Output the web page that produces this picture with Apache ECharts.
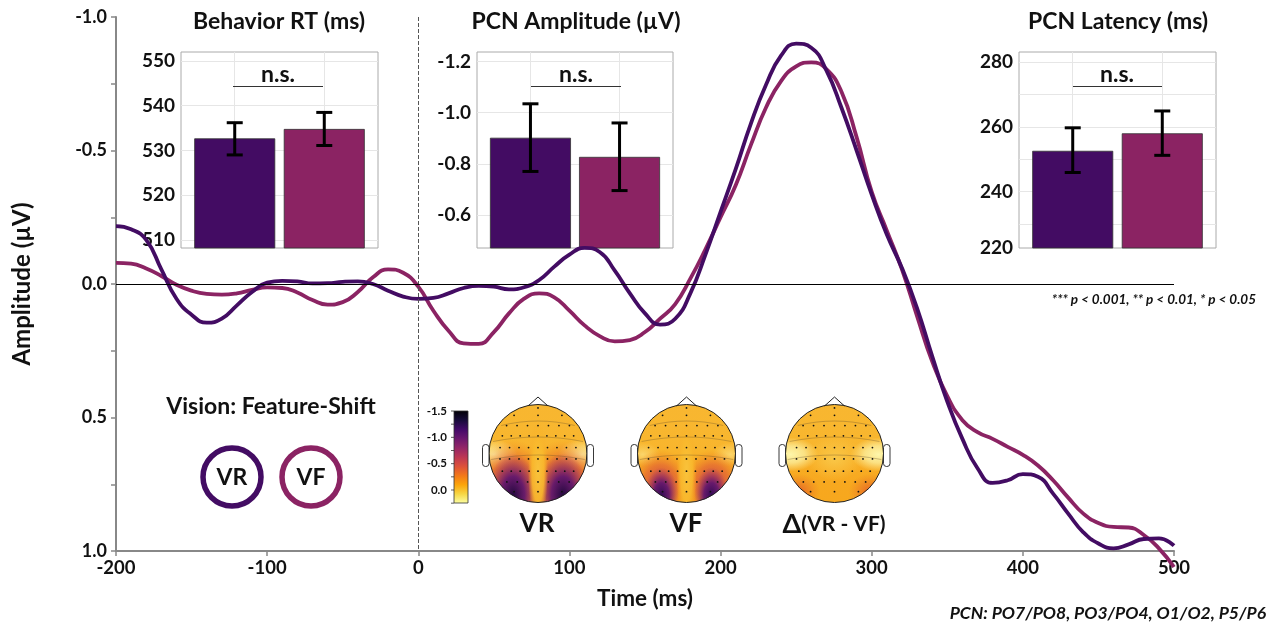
<!DOCTYPE html>
<html>
<head>
<meta charset="utf-8">
<script src="https://cdn.jsdelivr.net/npm/echarts@6/dist/echarts.min.js"></script>
<style>
html,body{margin:0;padding:0;background:#fff;}
#chart{width:1274px;height:627px;}
</style>
</head>
<body>
<div id="chart"></div>
<script>
// ---------------- DATA ----------------
const times = [-200,-190,-180,-170,-160,-150,-140,-130,-120,-110,-100,-90,-80,-70,-60,-50,-40,-30,-20,-10,
  0,10,20,30,40,50,60,70,80,90,100,110,120,130,140,150,160,170,180,190,200,210,220,230,240,250,260,270,280,290,
  300,310,320,330,340,350,360,370,380,390,400,410,420,430,440,450,460,470,480,490,500];
const vrAmp = [-0.217,-0.205,-0.165,-0.055,0.055,0.115,0.145,0.13,0.08,0.03,-0.005,-0.012,-0.01,-0.002,-0.003,-0.008,-0.01,0.0,0.025,0.047,
  0.056,0.052,0.035,0.015,0.007,0.01,0.02,0.012,-0.015,-0.065,-0.11,-0.135,-0.12,-0.05,0.035,0.11,0.152,0.13,0.035,-0.11,
  -0.27,-0.43,-0.6,-0.745,-0.855,-0.9,-0.885,-0.8,-0.66,-0.5,
  -0.335,-0.185,-0.06,0.09,0.27,0.44,0.58,0.69,0.745,0.735,0.712,0.722,0.785,0.86,0.93,0.972,0.99,0.975,0.955,0.953,0.98];
const vfAmp = [-0.079,-0.076,-0.058,-0.03,0.003,0.025,0.037,0.04,0.035,0.022,0.013,0.015,0.032,0.06,0.077,0.068,0.03,-0.025,-0.055,-0.042,
  0.01,0.1,0.175,0.222,0.224,0.18,0.11,0.055,0.035,0.05,0.1,0.155,0.195,0.215,0.21,0.18,0.13,0.075,-0.02,-0.13,
  -0.25,-0.37,-0.52,-0.66,-0.76,-0.815,-0.83,-0.805,-0.72,-0.55,
  -0.345,-0.2,-0.055,0.12,0.29,0.42,0.51,0.555,0.58,0.61,0.64,0.68,0.735,0.8,0.86,0.895,0.91,0.912,0.94,0.99,1.06];

const conditions = ['VR','VF'];
const rtMean = [532.7, 534.8];
const rtLow  = [529.0, 531.1];
const rtHigh = [536.2, 538.5];
const ampMean = [-0.902, -0.827];
const ampLow  = [-0.770, -0.695];
const ampHigh = [-1.035, -0.960];
const latMean = [252.6, 258.0];
const latLow  = [245.9, 251.2];
const latHigh = [259.7, 264.9];

const rtTicks = [510,520,530,540,550];
const ampTicks = [-1.2,-1.0,-0.8,-0.6];
const latGridTicks = [230,240,250,260,270,280];
const latLabelTicks = [220,240,260,280];
const colorbarTicks = [-1.5,-1.0,-0.5,0.0];

// ---------------- STYLE ----------------
const C_VR = '#430c63';
const C_VF = '#8b2363';
const FONT = 'Lato, "Open Sans", sans-serif';

const chart = echarts.init(document.getElementById('chart'), null, {renderer:'canvas'});

function insetY(idx, min, max, tickVals, labelVals, fmt, inverse){
  return {
    type:'value', gridIndex: idx, min: min, max: max, inverse: !!inverse,
    axisLine:{show:false}, axisTick:{show:false, customValues: tickVals},
    axisLabel:{customValues: labelVals, formatter: fmt, fontFamily: FONT, fontWeight:'bold', fontSize:19, color:'#111', margin:6},
    splitLine:{show:true, lineStyle:{color:'#e6e6e6', width:1}}
  };
}
function insetX(idx){
  return {
    type:'value', gridIndex: idx, min:0.4, max:2.6,
    axisLine:{show:false}, axisTick:{show:false, customValues:[1,2]}, axisLabel:{show:false},
    splitLine:{show:true, lineStyle:{color:'#e6e6e6', width:1}}
  };
}
function barSeries(idx, means){
  return {
    type:'bar', xAxisIndex: idx, yAxisIndex: idx, barWidth: 81, clip: true, z: 3,
    itemStyle:{borderColor:'#333', borderWidth:0.8},
    data: means.map((m,i)=>({value:[i+1, m], itemStyle:{color: i===0?C_VR:C_VF}}))
  };
}
function errSeries(idx, lows, highs){
  return {
    type:'custom', xAxisIndex: idx, yAxisIndex: idx, z: 4,
    encode:{x:0, y:[1,2]},
    data: lows.map((l,i)=>[i+1, l, highs[i]]),
    renderItem: function(params, api){
      const x = api.value(0);
      const p1 = api.coord([x, api.value(1)]);
      const p2 = api.coord([x, api.value(2)]);
      const w = 8;
      const st = {stroke:'#000', lineWidth:3};
      return {type:'group', children:[
        {type:'line', shape:{x1:p1[0], y1:p1[1], x2:p2[0], y2:p2[1]}, style:st},
        {type:'line', shape:{x1:p1[0]-w, y1:p1[1], x2:p1[0]+w, y2:p1[1]}, style:st},
        {type:'line', shape:{x1:p2[0]-w, y1:p2[1], x2:p2[0]+w, y2:p2[1]}, style:st}
      ]};
    }
  };
}

// ---------------- GRAPHIC (annotations, topomaps) ----------------
const G = [];
function txt(x, y, text, size, opts){
  opts = opts || {};
  G.push({type:'text', z:50, silent:true, x:x, y:y, rotation: opts.rotation||0,
    style:{text:text, font: (opts.italic?'italic ':'') + 'bold ' + size + 'px ' + FONT,
      fill: opts.fill||'#111', align: opts.align||'center', verticalAlign:'middle'}});
}
function line(x1,y1,x2,y2,color,w,z){
  G.push({type:'line', z: z||50, silent:true, shape:{x1,y1,x2,y2}, style:{stroke:color, lineWidth:w}});
}
// inset titles and n.s. brackets
txt(279, 22, 'Behavior RT (ms)', 23);
txt(576, 22, 'PCN Amplitude (µV)', 23);
txt(1118, 22, 'PCN Latency (ms)', 23);
[[233,323,278],[531,621,576],[1073,1162,1117]].forEach(b=>{
  txt(b[2], 75, 'n.s.', 23);
  line(b[0], 86.5, b[1], 86.5, '#333', 1);
});
txt(1256, 300, '*** p < 0.001, ** p < 0.01, * p < 0.05', 13.5, {italic:true, align:'right'});
txt(1266, 613, 'PCN: PO7/PO8, PO3/PO4, O1/O2, P5/P6', 17.5, {italic:true, align:'right'});

// legend
txt(271, 407, 'Vision: Feature-Shift', 23);
[[232, C_VR, 'VR'],[311, C_VF, 'VF']].forEach(l=>{
  G.push({type:'circle', z:50, silent:true, shape:{cx:l[0], cy:477, r:29}, style:{fill:'#fff', stroke:l[1], lineWidth:5.5}});
  txt(l[0], 478, l[2], 23);
});

// colorbar
const cbX = 454, cbTop = 411, cbBot = 503, cbW = 14;
const cbPerUnit = (490 - 411) / 1.5;
G.push({type:'rect', z:30, silent:true, shape:{x:cbX, y:cbTop, width:cbW, height:cbBot-cbTop},
  style:{stroke:'#333', lineWidth:0.8, fill:{type:'linear', x:0, y:0, x2:0, y2:1, colorStops:[
    {offset:0, color:'#000004'},{offset:0.1, color:'#160b39'},{offset:0.2, color:'#420a68'},{offset:0.3, color:'#6a176e'},
    {offset:0.4, color:'#932667'},{offset:0.5, color:'#bc3754'},{offset:0.6, color:'#dd513a'},{offset:0.7, color:'#f37819'},
    {offset:0.8, color:'#fca50a'},{offset:0.9, color:'#f6d746'},{offset:1, color:'#fcffa4'}]}}});
for (let v = -1.5; v <= 0.25 + 1e-9; v += 0.25){
  const y = cbTop + (v + 1.5) * cbPerUnit;
  line(cbX - 3, y, cbX, y, '#333', 0.8, 31);
}
colorbarTicks.forEach(v=>{
  txt(447, cbTop + (v + 1.5) * cbPerUnit, v.toFixed(1), 11.5, {align:'right'});
});

// topomaps
function blob(cx, cy, rx, ry, stops, z){
  const R = 50;
  G.push({type:'circle', z: z||11, silent:true, x:cx, y:cy, scaleX: rx/R, scaleY: ry/R,
    shape:{cx:0, cy:0, r:R}, style:{fill:{type:'radial', x:0.5, y:0.5, r:0.5, colorStops:stops}}});
}
function fade(c, a){ return c.replace('rgb(', 'rgba(').replace(')', ','+a+')'); }
function head(cx, cy, kind){
  const r = 49;
  G.push({type:'circle', z:10, silent:true, shape:{cx, cy, r}, style:{fill:'#f7a81e'}});
  G.push({type:'circle', z:10, silent:true, shape:{cx, cy, r}, style:{fill:{type:'linear', x:0,y:0,x2:0,y2:1, colorStops:[
    {offset:0, color:'rgba(248,182,48,1)'},{offset:0.45, color:'rgba(249,190,55,0.6)'},{offset:1, color:'rgba(247,160,25,0)'}]}}});
  const Y = 'rgb(253,246,170)';
  if (kind === 'VR' || kind === 'VF'){
    const big = kind === 'VR';
    blob(cx-44, cy+1, big?24:18, big?15:12, [{offset:0,color:fade(Y,big?1:0.5)},{offset:1,color:fade(Y,0)}]);
    blob(cx+44, cy+1, big?24:18, big?15:12, [{offset:0,color:fade(Y,big?1:0.5)},{offset:1,color:fade(Y,0)}]);
    const rb = [{offset:0,color:'rgba(190,55,85,0.95)'},{offset:0.55,color:'rgba(222,85,55,0.6)'},{offset:1,color:'rgba(240,130,30,0)'}];
    blob(cx-26, cy+30, big?38:30, big?44:34, rb);
    blob(cx+26, cy+30, big?38:30, big?44:34, rb);
    const dark = big ? 'rgba(35,8,62,1)' : 'rgba(50,10,85,1)';
    const db = [{offset:0,color:dark},{offset:0.45,color:'rgba(95,22,110,0.92)'},{offset:1,color:'rgba(160,45,100,0)'}];
    blob(cx-25, cy+42, big?26:17, big?42:28, db);
    blob(cx+25, cy+42, big?26:17, big?42:28, db);
    blob(cx, cy+18, 10, 50, [{offset:0,color:'rgba(249,195,60,1)'},{offset:0.6,color:'rgba(249,185,45,0.9)'},{offset:1,color:'rgba(248,175,40,0)'}]);
  } else {
    blob(cx-44, cy+1, 28, 17, [{offset:0,color:fade(Y,1)},{offset:0.5,color:fade(Y,0.7)},{offset:1,color:fade(Y,0)}]);
    blob(cx+44, cy+1, 28, 17, [{offset:0,color:fade(Y,1)},{offset:0.5,color:fade(Y,0.7)},{offset:1,color:fade(Y,0)}]);
    blob(cx, cy+5, 28, 22, [{offset:0,color:'rgba(250,205,80,0.8)'},{offset:1,color:'rgba(250,205,80,0)'}]);
    blob(cx-36, cy+38, 22, 18, [{offset:0,color:'rgba(228,95,40,0.95)'},{offset:1,color:'rgba(235,120,35,0)'}]);
    blob(cx+36, cy+38, 22, 18, [{offset:0,color:'rgba(228,95,40,0.95)'},{offset:1,color:'rgba(235,120,35,0)'}]);
  }
  [-30,-14,4].forEach(dy=>{
    const hw = Math.sqrt(r*r - dy*dy) - 2;
    G.push({type:'bezierCurve', z:12, silent:true, shape:{x1:cx-hw, y1:cy+dy+2, x2:cx+hw, y2:cy+dy+2, cpx1:cx-hw/3, cpy1:cy+dy-4, cpx2:cx+hw/3, cpy2:cy+dy-4},
      style:{stroke:'rgba(90,70,40,0.45)', lineWidth:0.7, fill:null}});
  });
  const rows = [[-0.93,1],[-0.78,3],[-0.57,7],[-0.36,9],[-0.12,9],[0.11,9],[0.36,9],[0.58,7],[0.78,3]];
  rows.forEach(rw=>{
    const dy = rw[0]*r, n = rw[1];
    const span = Math.sqrt(Math.max(0, r*r - dy*dy)) * 0.78;
    for (let i=0;i<n;i++){
      const dx = n===1 ? 0 : -span + 2*span*i/(n-1);
      G.push({type:'circle', z:13, silent:true, shape:{cx:cx+dx, cy:cy+dy, r:0.9}, style:{fill:'#111'}});
    }
  });
  // white mask ring (covers radius 49..93)
  G.push({type:'circle', z:14, silent:true, shape:{cx, cy, r:r+22}, style:{fill:null, stroke:'#fff', lineWidth:44}});
  G.push({type:'circle', z:15, silent:true, shape:{cx, cy, r}, style:{fill:null, stroke:'#222', lineWidth:1}});
  G.push({type:'polyline', z:15, silent:true, shape:{points:[[cx-10, cy-r+1.5],[cx, cy-r-7.5],[cx+10, cy-r+1.5]]}, style:{stroke:'#222', lineWidth:1, fill:null}});
  G.push({type:'rect', z:15, silent:true, shape:{x:cx-r-6.5, y:cy-9, width:6.5, height:22, r:3}, style:{fill:'#fff', stroke:'#222', lineWidth:0.9}});
  G.push({type:'rect', z:15, silent:true, shape:{x:cx+r, y:cy-9, width:6.5, height:22, r:3}, style:{fill:'#fff', stroke:'#222', lineWidth:0.9}});
}
head(538, 453.5, 'VR');
head(686.5, 453.5, 'VF');
head(834.5, 453.5, 'D');
txt(537, 524, 'VR', 26);
txt(686, 524, 'VF', 26);
G.push({type:'text', z:50, silent:true, x:834, y:524,
  style:{text:'{a|Δ}{b|(VR - VF)}', align:'center', verticalAlign:'middle',
    rich:{a:{font:'bold 27px '+FONT, fill:'#111'}, b:{font:'bold 21px '+FONT, fill:'#111'}}}});

// ---------------- OPTION ----------------
const option = {
  animation:false,
  backgroundColor:'#fff',
  grid:[
    {left:116, top:17, width:1058, height:534},
    {left:181, top:52, width:197, height:196, show:true, borderColor:'#aaa', borderWidth:1, backgroundColor:'#fff'},
    {left:477, top:52, width:196, height:196, show:true, borderColor:'#aaa', borderWidth:1, backgroundColor:'#fff'},
    {left:1019, top:52, width:197, height:196, show:true, borderColor:'#aaa', borderWidth:1, backgroundColor:'#fff'}
  ],
  xAxis:[
    {type:'value', gridIndex:0, min:-200, max:500, interval:100,
     name:'Time (ms)', nameLocation:'middle', nameGap:36,
     nameTextStyle:{fontFamily:FONT, fontWeight:'bold', fontSize:22.5, color:'#111'},
     axisLine:{onZero:false, lineStyle:{color:'#888', width:2}},
     axisTick:{length:5, lineStyle:{color:'#888', width:1.5}},
     axisLabel:{fontFamily:FONT, fontWeight:'bold', fontSize:18.5, color:'#111', margin:8},
     splitLine:{show:false}},
    insetX(1), insetX(2), insetX(3)
  ],
  yAxis:[
    {type:'value', gridIndex:0, min:-1, max:1, interval:0.25, inverse:true,
     name:'Amplitude (µV)', nameLocation:'middle', nameGap:82, nameRotate:90,
     nameTextStyle:{fontFamily:FONT, fontWeight:'bold', fontSize:24, color:'#111'},
     axisLine:{show:true, onZero:false, lineStyle:{color:'#888', width:2}},
     axisTick:{length:5, lineStyle:{color:'#888', width:1.5}},
     axisLabel:{fontFamily:FONT, fontWeight:'bold', fontSize:18, color:'#111', margin:9,
       formatter: v => (Math.abs(v*2 - Math.round(v*2)) < 1e-6) ? v.toFixed(1) : ''},
     splitLine:{show:false}},
    insetY(1, 508.2, 552, rtTicks, rtTicks, v => String(v)),
    insetY(2, -1.238, -0.47, ampTicks, ampTicks, v => v.toFixed(1), true),
    insetY(3, 222.6, 283.1, latGridTicks, [222.6, 240, 260, 280], v => String(latLabelTicks[Math.round((v - 220) / 20)]))
  ],
  graphic: G,
  series:[
    {type:'line', xAxisIndex:0, yAxisIndex:0, data:[], z:1, silent:true,
     markLine:{silent:true, symbol:['none','none'], label:{show:false},
       data:[
         {xAxis:0, lineStyle:{type:[4,2], color:'#555', width:1}},
         {yAxis:0, lineStyle:{type:'solid', color:'#000', width:1}}
       ]}},
    {name:'VF', type:'line', xAxisIndex:0, yAxisIndex:0, smooth:0.5, showSymbol:false, clip:false, z:2,
     lineStyle:{color:C_VF, width:3.8}, itemStyle:{color:C_VF},
     data: times.map((t,i)=>[t, vfAmp[i]])},
    {name:'VR', type:'line', xAxisIndex:0, yAxisIndex:0, smooth:0.5, showSymbol:false, clip:false, z:3,
     lineStyle:{color:C_VR, width:3.8}, itemStyle:{color:C_VR},
     data: times.map((t,i)=>[t, vrAmp[i]])},
    barSeries(1, rtMean), errSeries(1, rtLow, rtHigh),
    barSeries(2, ampMean), errSeries(2, ampLow, ampHigh),
    barSeries(3, latMean), errSeries(3, latLow, latHigh)
  ]
};
chart.setOption(option);
</script>
</body>
</html>
